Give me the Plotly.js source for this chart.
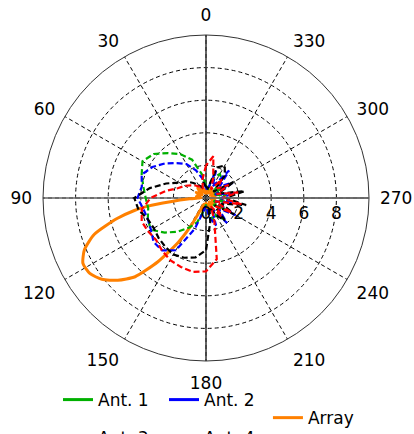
<!DOCTYPE html>
<html><head><meta charset="utf-8">
<script src="https://cdn.plot.ly/plotly-3.0.1.min.js"></script>
<style>html,body{margin:0;padding:0;background:#fff}#c{width:414px;height:434px}</style>
</head><body><div id="c"></div>
<script>
// angles (deg) for the four single antennas
const theta = [0,10,20,30,40,50,60,70,80,90,100,110,120,130,140,150,160,170,180,190,200,210,220,230,240,250,260,270,280,290,300,310,320,330,340,350,360];
const ant1 = [0.8,1.5,2.5,3.1,3.6,4.2,4.5,4.2,3.9,3.7,3.6,3.8,3.9,3.3,2.7,2.1,1.6,0.8,0.4,0.9,1.5,1.2,1.7,0.6,1.4,0.5,1.2,0.8,1.3,0.5,1.4,0.6,1.5,1.7,1.3,0.5,0.8];
const ant2 = [0.6,1.2,1.8,2.4,2.8,3.3,3.8,4.2,4.0,4.2,3.9,3.8,3.9,4.2,4.2,3.7,2.0,0.8,0.5,1.2,1.8,0.7,2.0,1.0,2.1,0.6,1.6,0.9,1.8,0.6,1.9,1.1,2.2,0.8,1.8,0.5,0.6];
const ant3 = [2.0,1.2,0.6,0.8,1.0,1.2,1.5,1.8,2.5,3.4,4.0,4.2,4.1,4.0,4.2,4.4,4.5,4.6,4.5,3.8,1.5,0.6,1.5,0.8,1.8,0.6,2.2,1.0,2.0,0.7,1.6,0.9,1.5,0.6,1.3,2.6,2.0];
const ant4 = [0.7,1.0,0.7,0.9,1.2,1.6,1.9,2.6,3.5,4.4,4.2,3.8,3.7,3.8,3.9,4.0,3.9,3.7,3.2,1.5,0.6,1.2,1.8,0.7,2.0,1.0,2.5,1.2,2.4,0.8,2.0,0.6,1.8,2.3,2.0,0.6,0.7];
// array pattern (finer steps around the main lobe)
const arrTheta = [0,10,20,30,40,50,60,70,80,86,90,93,96,98,100,103,108,113,118,123,128,133,138,143,148,152,156,160,170,180,190,200,210,220,230,240,250,260,270,280,290,300,310,320,330,340,350,360];
const arrR     = [0.6,0.3,0.7,0.4,0.8,0.3,0.7,0.4,0.6,0.3,0.5,1.0,2.2,3.6,4.5,5.6,7.2,8.1,8.55,8.5,8.1,7.4,6.5,4.9,3.2,1.8,0.7,0.4,0.5,0.3,0.7,0.4,0.8,0.3,0.6,0.4,0.7,0.3,0.6,0.4,0.7,0.3,0.6,0.4,0.7,0.3,0.6,0.6];
const angTicks = [0,30,60,90,120,150,180,210,240,270,300,330];
const radTicks = [0,2,4,6,8];
const rMax = 10;

const FONT = "DejaVu Sans, Verdana, sans-serif";
const dashed = "6px,3px";
const C = {a1:'#00b000', a2:'#0000ff', a3:'#ff0000', a4:'#000000', arr:'#ff8000'};
function ant(r, color){
  return {type:'scatterpolar', mode:'lines', r:r, theta:theta, showlegend:false, hoverinfo:'skip',
    line:{color:color, width:2.2, dash:dashed}};
}
function key(name, color, legend, rank){
  return {type:'scatterpolar', mode:'lines', name:name, r:[null], theta:[null],
    line:{color:color, width:3}, legend:legend, legendrank:rank, showlegend:true};
}
const traces = [
  {type:'scatterpolar', mode:'lines', r:[rMax,0,rMax], theta:[90,90,270], line:{color:'#666',width:1.5}, showlegend:false, hoverinfo:'skip'},
  {type:'scatterpolar', mode:'lines', r:[rMax,0,rMax], theta:[0,0,180], line:{color:'#333',width:1.5}, showlegend:false, hoverinfo:'skip'},
  {type:'scatterpolar', mode:'lines', r:arrR, theta:arrTheta, line:{color:C.arr, width:3, shape:'spline', smoothing:0.6}, showlegend:false},
  ant(ant1, C.a1),
  ant(ant2, C.a2),
  ant(ant4, C.a4),
  ant(ant3, C.a3),
  key('Ant. 1', C.a1, 'legend', 1),
  key('Ant. 2', C.a2, 'legend', 2),
  key('Array', C.arr, 'legend2', 1),
  key('Ant. 3', C.a3, 'legend3', 1),
  key('Ant. 4', C.a4, 'legend3', 2)
];
const legBase = {orientation:'h', xanchor:'left', yanchor:'middle', bgcolor:'rgba(0,0,0,0)',
  font:{family:FONT, size:17, color:'#000'}, itemwidth:30, entrywidth:61, entrywidthmode:'pixels', traceorder:'normal'};
const layout = {
  width:414, height:434,
  margin:{l:43, r:45, t:34, b:72, autoexpand:false},
  paper_bgcolor:'#fff',
  font:{family:FONT, size:17, color:'#000'},
  showlegend:true,
  legend: Object.assign({}, legBase, {x:0.046, y:-0.116}),
  legend2: Object.assign({}, legBase, {x:0.69, y:-0.171}),
  legend3: Object.assign({}, legBase, {x:0.046, y:-0.232}),
  polar:{
    bgcolor:'#fff',
    angularaxis:{rotation:90, direction:'counterclockwise', tickmode:'array', tickvals:angTicks,
      ticktext:angTicks.map(String), showline:true, linecolor:'#333', linewidth:1,
      gridcolor:'#000', griddash:'4px,3px', gridwidth:1, ticks:'outside', ticklen:7, tickcolor:'rgba(0,0,0,0)', tickfont:{size:17}},
    radialaxis:{range:[0,rMax], angle:0, tickmode:'array', tickvals:radTicks, ticktext:radTicks.map(String),
      showline:true, linecolor:'#666', linewidth:1.5, gridcolor:'#000', griddash:'4px,3px', gridwidth:1,
      ticks:'', tickfont:{size:17}, side:'clockwise'}
  }
};
Plotly.newPlot('c', traces, layout, {displayModeBar:false, staticPlot:true});
</script></body></html>
